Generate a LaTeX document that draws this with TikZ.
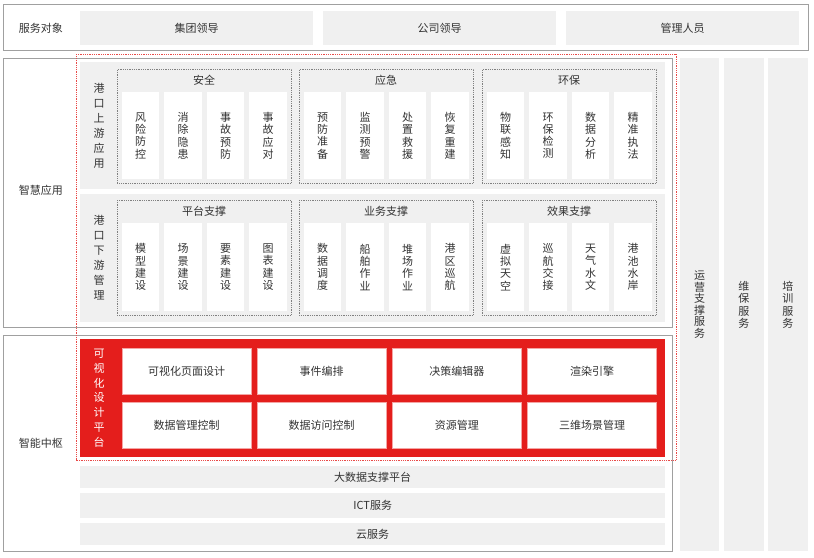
\documentclass[tikz,border=0pt]{standalone}
\usepackage{fontspec}
\setmainfont{Noto Sans CJK SC}
\usetikzlibrary{positioning}
\definecolor{themeColor}{RGB}{228,30,28}
\definecolor{panelColor}{RGB}{240,240,240}
\definecolor{frameColor}{RGB}{160,160,160}
\definecolor{textColor}{RGB}{51,51,51}

\begin{document}
\begin{tikzpicture}[x=1pt,y=-1pt,
  every node/.style={text=textColor, font=\fontsize{11}{13}\selectfont},
  frame/.style={draw=frameColor, line width=1pt},
  cell/.style={fill=panelColor, anchor=north west, inner sep=0pt},
  group/.style={draw=gray, densely dotted, line width=0.8pt, anchor=north west, inner sep=0pt, minimum width=174pt},
  item/.style={fill=white, anchor=north west, inner sep=0pt, align=center, minimum width=37.5pt, font=\fontsize{11}{12.3}\selectfont},
  redcell/.style={fill=white, draw=themeColor!40, line width=0.6pt, anchor=north west, inner sep=0pt, minimum width=129pt, minimum height=46pt},
  vlabel/.style={align=center, font=\fontsize{11}{15}\selectfont},
]
\useasboundingbox (0,0) rectangle (814,557);

% service objects
\draw [frame] (3,4) rectangle (808,50);
\node (objLabel) at (41,28) {服务对象};
\node [cell, minimum width=233pt, minimum height=34pt] (obj1) at (80,11) {集团领导};
\node [cell, minimum width=233pt, minimum height=34pt] (obj2) at (323,11) {公司领导};
\node [cell, minimum width=233pt, minimum height=34pt] (obj3) at (566,11) {管理人员};

% smart applications
\draw [frame] (3,58) rectangle (672,327);
\node (appLabel) at (41,190) {智慧应用};
\node [cell, minimum width=585pt, minimum height=127pt] (upPanel) at (80,62) {};
\node [cell, minimum width=585pt, minimum height=128pt] (downPanel) at (80,194) {};
\node [vlabel] (upLabel) at (99,126) {港\\口\\上\\游\\应\\用};
\node [vlabel] (downLabel) at (99,258) {港\\口\\下\\游\\管\\理};

\foreach \gx/\gname/\ia/\ib/\ic/\id [count=\g] in {
  117/安全/风\\险\\防\\控/消\\除\\隐\\患/事\\故\\预\\防/事\\故\\应\\对,
  299/应急/预\\防\\准\\备/监\\测\\预\\警/处\\置\\救\\援/恢\\复\\重\\建,
  482/环保/物\\联\\感\\知/环\\保\\检\\测/数\\据\\分\\析/精\\准\\执\\法}
{
  \node [group, minimum height=114pt] (up\g) at (\gx,69) {};
  \node (up\g title) at (\gx+87,80) {\gname};
  \node [item, minimum height=87pt] (up\g a) at (\gx+4.7,92) {\ia};
  \node [item, minimum height=87pt] (up\g b) at (\gx+47.2,92) {\ib};
  \node [item, minimum height=87pt] (up\g c) at (\gx+89.7,92) {\ic};
  \node [item, minimum height=87pt] (up\g d) at (\gx+132.2,92) {\id};
}

\foreach \gx/\gname/\ia/\ib/\ic/\id [count=\g] in {
  117/平台支撑/模\\型\\建\\设/场\\景\\建\\设/要\\素\\建\\设/图\\表\\建\\设,
  299/业务支撑/数\\据\\调\\度/船\\舶\\作\\业/堆\\场\\作\\业/港\\区\\巡\\航,
  482/效果支撑/虚\\拟\\天\\空/巡\\航\\交\\接/天\\气\\水\\文/港\\池\\水\\岸}
{
  \node [group, minimum height=115pt] (down\g) at (\gx,200) {};
  \node (down\g title) at (\gx+87,211.5) {\gname};
  \node [item, minimum height=88pt] (down\g a) at (\gx+4.7,223) {\ia};
  \node [item, minimum height=88pt] (down\g b) at (\gx+47.2,223) {\ib};
  \node [item, minimum height=88pt] (down\g c) at (\gx+89.7,223) {\ic};
  \node [item, minimum height=88pt] (down\g d) at (\gx+132.2,223) {\id};
}

% smart hub
\draw [frame] (3,335) rectangle (672,551);
\node (hubLabel) at (41,443) {智能中枢};
\fill [themeColor] (80,339) rectangle (665,457);
\node [vlabel, text=white, font=\fontsize{11}{14.8}\selectfont] (designLabel) at (99,398) {可\\视\\化\\设\\计\\平\\台};
\node [redcell] (pageDesign) at (121.7,348.3) {可视化页面设计};
\node [redcell] (eventFlow) at (256.7,348.3) {事件编排};
\node [redcell] (decisionEdit) at (392,348.3) {决策编辑器};
\node [redcell] (renderEngine) at (527.3,348.3) {渲染引擎};
\node [redcell] (dataCtrl) at (121.7,401.7) {数据管理控制};
\node [redcell] (accessCtrl) at (256.7,401.7) {数据访问控制};
\node [redcell] (resourceMgr) at (392,401.7) {资源管理};
\node [redcell] (sceneMgr) at (527.3,401.7) {三维场景管理};

\node [cell, minimum width=585pt, minimum height=22pt] (bigData) at (80,466) {大数据支撑平台};
\node [cell, minimum width=585pt, minimum height=25.5pt] (ictService) at (80,492.7) {ICT服务};
\node [cell, minimum width=585pt, minimum height=22.3pt] (cloudService) at (80,522.7) {云服务};

% side services
\node [cell, align=center, minimum width=39pt, minimum height=493pt, font=\fontsize{11}{11.6}\selectfont] (opsService) at (680,58) {运\\营\\支\\撑\\服\\务};
\node [cell, align=center, minimum width=39.3pt, minimum height=493pt, font=\fontsize{11}{12.3}\selectfont] (maintService) at (724,58) {维\\保\\服\\务};
\node [cell, align=center, minimum width=39.3pt, minimum height=493pt, font=\fontsize{11}{12.3}\selectfont] (trainService) at (768,58) {培\\训\\服\\务};

% red dotted outline
\draw [themeColor!80, densely dotted, line width=0.8pt] (76,54.3) rectangle (676,460);
\end{tikzpicture}
\end{document}
